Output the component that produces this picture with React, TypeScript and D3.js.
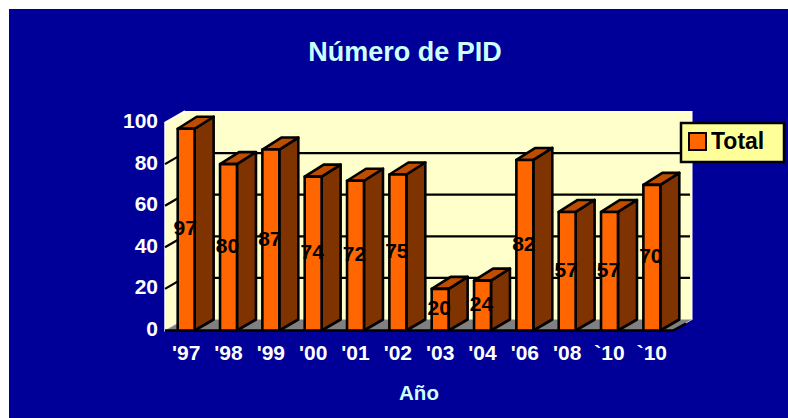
import React, { useEffect, useRef } from "react";
import * as d3 from "d3";

const years = ["'97", "'98", "'99", "'00", "'01", "'02", "'03", "'04", "'06", "'08", "`10", "`10"];
const totals = [97, 80, 87, 74, 72, 75, 20, 24, 82, 57, 57, 70];
const yTicks = [0, 20, 40, 60, 80, 100];

const font = "'Liberation Sans', Arial, sans-serif";
const depthX = 19;
const depthY = 11;

const App = () => {
  const svgRef = useRef<SVGSVGElement>(null);

  useEffect(() => {
    const svg = d3.select(svgRef.current);
    svg.selectAll("*").remove();

    const x = d3
      .scaleBand<number>()
      .domain(years.map((_, i) => i))
      .range([165, 673])
      .paddingInner(0.6)
      .paddingOuter(0.3);
    const y = d3.scaleLinear().domain([0, 100]).range([330.5, 122.5]);

    const y0 = y(0);
    const y100 = y(100);
    const left = 165;
    const right = 673;

    svg.append("rect").attr("x", 9).attr("y", 9).attr("width", 779).attr("height", 409).attr("fill", "#000099");

    // walls and floor
    const poly = (pts: number[][]) => "M" + pts.map((p) => p.join(",")).join("L") + "Z";
    svg
      .append("path")
      .attr("d", poly([[left, y0], [left, y100], [left + depthX, y100 - depthY], [left + depthX, y0 - depthY]]))
      .attr("fill", "#FFFFCC")
      .attr("stroke", "#FFFFFF")
      .attr("stroke-width", 1.5);
    svg
      .append("rect")
      .attr("x", left + depthX)
      .attr("y", y100 - depthY)
      .attr("width", right - left)
      .attr("height", y0 - y100)
      .attr("fill", "#FFFFCC")
      .attr("stroke", "#FFFFFF")
      .attr("stroke-width", 1);
    svg
      .append("path")
      .attr("d", poly([[left, y0], [right, y0], [right + depthX, y0 - depthY], [left + depthX, y0 - depthY]]))
      .attr("fill", "#808080")
      .attr("stroke", "#C0C0C0")
      .attr("stroke-width", 1);

    // gridlines
    const grid = svg.append("g").attr("stroke", "#000").attr("stroke-width", 2.2).attr("fill", "none");
    yTicks
      .filter((t) => t > 0 && t < 100)
      .forEach((t) => {
        grid
          .append("path")
          .attr("d", `M${left},${y(t)}L${left + depthX},${y(t) - depthY}L${right + depthX - 2},${y(t) - depthY}`);
      });
    svg
      .append("path")
      .attr("d", `M${left},${y0}H${right}L${right + 13},${y0 - 7}`)
      .attr("fill", "none")
      .attr("stroke", "#000")
      .attr("stroke-width", 2.5);

    // 3d bars
    const bars = svg
      .append("g")
      .selectAll("g")
      .data(totals)
      .enter()
      .append("g")
      .attr("stroke", "#000")
      .attr("stroke-width", 2.6)
      .attr("stroke-linejoin", "round");

    const w = x.bandwidth();
    bars
      .append("path")
      .attr("fill", "#7F3300")
      .attr("d", (d, i) => {
        const r = x(i)! + w;
        return poly([[r, y(d)], [r + depthX, y(d) - depthY - 1], [r + depthX, y0 - depthY], [r, y0]]);
      });
    bars
      .append("path")
      .attr("fill", "#BF4D00")
      .attr("d", (d, i) => {
        const l = x(i)!;
        return poly([[l, y(d)], [l + depthX, y(d) - depthY - 1], [l + w + depthX, y(d) - depthY - 1], [l + w, y(d)]]);
      });
    bars
      .append("rect")
      .attr("fill", "#FF6600")
      .attr("x", (_, i) => x(i)!)
      .attr("y", (d) => y(d))
      .attr("width", w)
      .attr("height", (d) => y0 - y(d));

    // data labels
    svg
      .append("g")
      .selectAll("text")
      .data(totals)
      .enter()
      .append("text")
      .attr("x", (_, i) => x(i)! + w / 2 - 1)
      .attr("y", (d) => y(d / 2) + 5.5)
      .attr("text-anchor", "middle")
      .attr("font-family", font)
      .attr("font-weight", "bold")
      .attr("font-size", 21)
      .attr("fill", "#000")
      .text((d) => d);

    // value axis labels
    svg
      .append("g")
      .selectAll("text")
      .data(yTicks)
      .enter()
      .append("text")
      .attr("x", 158)
      .attr("y", (d) => y(d) + 5.5)
      .attr("text-anchor", "end")
      .attr("font-family", font)
      .attr("font-weight", "bold")
      .attr("font-size", 21)
      .attr("fill", "#fff")
      .text((d) => d);

    // category labels
    svg
      .append("g")
      .selectAll("text")
      .data(years)
      .enter()
      .append("text")
      .attr("x", (_, i) => x(i)! + w / 2)
      .attr("y", 360)
      .attr("text-anchor", "middle")
      .attr("font-family", font)
      .attr("font-weight", "bold")
      .attr("font-size", 21)
      .attr("fill", "#fff")
      .text((d) => d);

    // titles
    svg
      .append("text")
      .attr("x", 405)
      .attr("y", 61)
      .attr("text-anchor", "middle")
      .attr("font-family", font)
      .attr("font-weight", "bold")
      .attr("font-size", 27)
      .attr("fill", "#CCFFFF")
      .text("Número de PID");
    svg
      .append("text")
      .attr("x", 419)
      .attr("y", 400)
      .attr("text-anchor", "middle")
      .attr("font-family", font)
      .attr("font-weight", "bold")
      .attr("font-size", 20.5)
      .attr("fill", "#CCFFFF")
      .text("Año");

    // legend
    svg
      .append("rect")
      .attr("x", 681)
      .attr("y", 123)
      .attr("width", 103)
      .attr("height", 39)
      .attr("fill", "#FFFF99")
      .attr("stroke", "#000")
      .attr("stroke-width", 2.5);
    svg
      .append("rect")
      .attr("x", 689)
      .attr("y", 133)
      .attr("width", 17)
      .attr("height", 17)
      .attr("fill", "#FF6600")
      .attr("stroke", "#000")
      .attr("stroke-width", 2);
    svg
      .append("text")
      .attr("x", 711)
      .attr("y", 149)
      .attr("font-family", font)
      .attr("font-weight", "bold")
      .attr("font-size", 23)
      .attr("fill", "#000")
      .text("Total");
  }, []);

  return (
    <svg
      ref={svgRef}
      width="788"
      height="418"
      style={{ position: "absolute", left: 0, top: 0, display: "block" }}
    ></svg>
  );
};

export default App;
